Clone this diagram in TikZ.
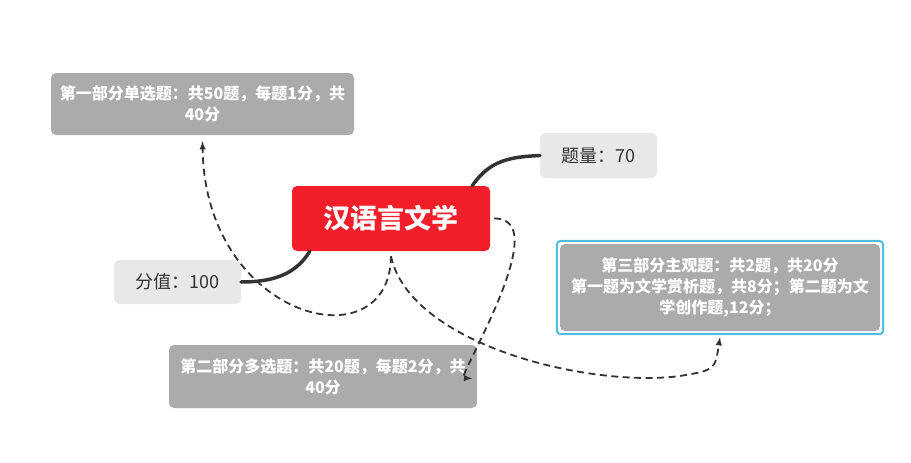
\documentclass[tikz,border=0pt]{standalone}
\usepackage{fontspec}
\setmainfont{Noto Sans CJK SC}
\usetikzlibrary{arrows}

\definecolor{rootred}{HTML}{F21E2A}
\definecolor{partgrey}{HTML}{ABABAB}
\definecolor{infogrey}{HTML}{E8E8E8}
\definecolor{selblue}{HTML}{4DBDE8}
\definecolor{linkdark}{HTML}{333333}

\begin{document}
\begin{tikzpicture} [x = 1pt, y = -1pt,
  root/.style = {fill = rootred, text = white, rounded corners = 5pt, inner sep = 0pt,
    minimum width = 198pt, minimum height = 65pt, font = \fontsize{27}{30}\selectfont\bfseries},
  info/.style = {fill = infogrey, text = linkdark, rounded corners = 6pt, inner sep = 0pt,
    minimum height = 45pt, font = \fontsize{18}{22}\selectfont},
  part/.style = {fill = partgrey, text = white, rounded corners = 5pt, inner sep = 0pt,
    align = center, font = \fontsize{16}{21}\selectfont\bfseries},
  branch/.style = {draw = linkdark, line width = 3.5pt, line cap = round},
  jump/.style = {draw = linkdark, line width = 1.8pt, dash pattern = on 7pt off 4.5pt, -latex}]
\useasboundingbox (0, 0) rectangle (911, 463);

\node[root] (root) at (391, 218.5) {汉语言文学};
\node[info, minimum width = 117pt] (count) at (598.5, 155.5) {题量：70};
\node[info, minimum width = 127pt, minimum height = 44pt] (score) at (177.5, 282) {分值：100};

\node[part, minimum width = 303pt, minimum height = 62pt] (single) at (202.5, 104)
  {第一部分单选题：共50题，每题1分，共\\40分};
\node[part, minimum width = 308pt, minimum height = 63pt] (multi) at (323, 376.5)
  {第二部分多选题：共20题，每题2分，共\\40分};
\node[part, minimum width = 320pt, minimum height = 87pt] (essay) at (720, 287.5)
  {第三部分主观题：共2题，共20分\\第一题为文学赏析题，共8分；第二题为文\\学创作题,12分；};
\draw[selblue, line width = 2pt, rounded corners = 4pt]
  ([shift = {(-3, 3)}]essay.south west) rectangle ([shift = {(3, -3)}]essay.north east);

% branches
\draw[branch] ([xshift = -18pt]root.north east) .. controls (490, 160) and (510, 157) .. (count.west);
\draw[branch] ([xshift = 18pt]root.south west) .. controls (295, 276) and (270, 282) .. (score.east);

% relations
\draw[jump] ([yshift = -5pt]root.south) .. controls (390, 365) and (205, 320) .. ([yshift = -6pt]single.south);
\draw[jump] ([yshift = -5pt]root.south) .. controls (410, 345) and (590, 388) .. (680, 376)
  .. controls (715, 370) .. ([yshift = -6pt]essay.south);
\draw[jump] ([xshift = 4pt]root.east) .. controls (530, 218) and (515, 270) .. (478, 345)
  .. controls (462, 378) .. ([xshift = -5pt, yshift = -2pt]multi.east);
\end{tikzpicture}
\end{document}
